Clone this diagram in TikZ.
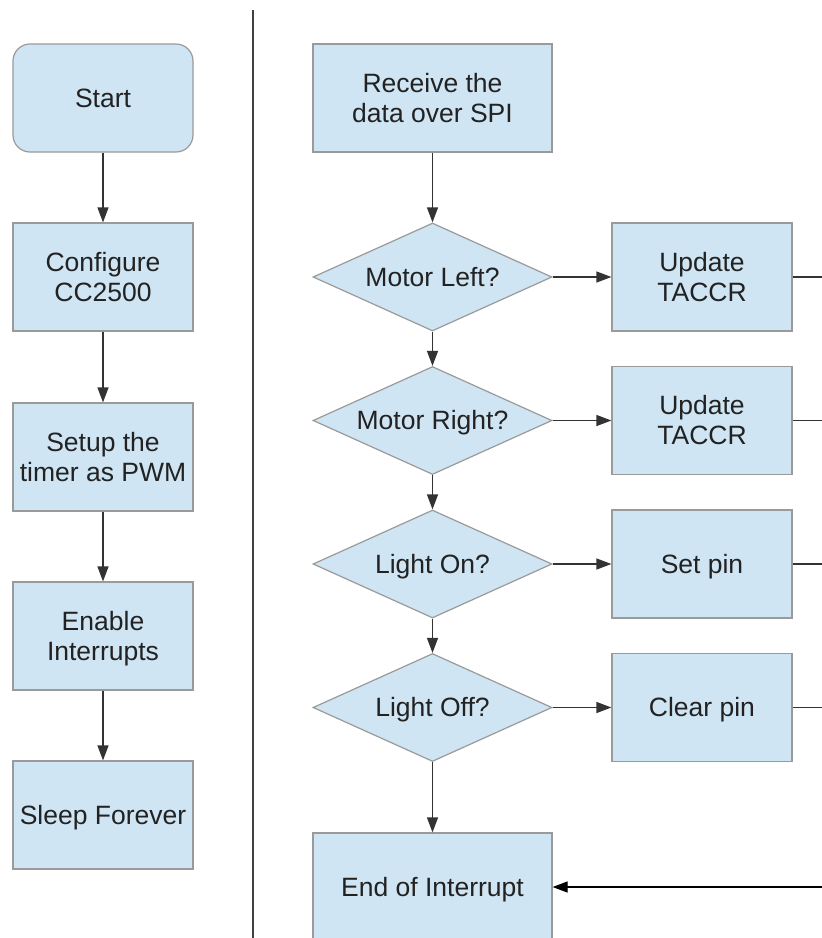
\documentclass[tikz,border=0pt]{standalone}
\usepackage{fontspec}
\setmainfont{Liberation Sans}
\usetikzlibrary{arrows.meta,shapes.geometric}
\definecolor{boxfill}{HTML}{CFE5F3}
\definecolor{boxline}{HTML}{9A9A9A}
\definecolor{txt}{HTML}{222222}
\definecolor{wire}{HTML}{333333}
% every text line gets the full ascent/descent of the font,
% so one- and two-line labels sit the same way in their shapes
\newcommand\lnstrut{\rule[-5.6pt]{0pt}{29.6pt}}
\tikzset{
  x=1pt,y=1pt,
  base/.style={fill=boxfill,draw=boxline,line width=1.2pt,text=txt,
    font=\fontsize{26.5}{29.6}\selectfont,align=center,inner sep=0pt},
  proc/.style={base,rectangle,minimum width=180pt,minimum height=108pt},
  wideproc/.style={base,rectangle,minimum width=239pt,minimum height=108pt},
  term/.style={proc,rounded corners=17pt},
  decide/.style={base,diamond,shape aspect=2.2,minimum width=239pt,minimum height=108pt},
  flow/.style={draw=wire,line width=1.2pt,-{Triangle[length=15pt,width=11pt]}},
  wireline/.style={draw=wire,line width=1.2pt}
}
\begin{document}
\begin{tikzpicture}
\clip (0,0) rectangle (822,-938);
\fill[white] (0,0) rectangle (822,-938);

% divider between main program and interrupt handler
\coordinate (divtop) at (253,-10);
\coordinate (divbot) at (253,-938);
\draw[wireline,draw=black!75] (divtop) -- (divbot);

% main program
\node[term] (start) at (103,-98) {\lnstrut Start};
\node[proc] (cfg)   at (103,-277) {\lnstrut Configure\\\lnstrut CC2500};
\node[proc] (tmr)   at (103,-457) {\lnstrut Setup the\\\lnstrut timer as PWM};
\node[proc] (irq)   at (103,-636) {\lnstrut Enable\\\lnstrut Interrupts};
\node[proc] (sleep) at (103,-815) {\lnstrut Sleep Forever};

\draw[flow] (start) -- (cfg);
\draw[flow] (cfg) -- (tmr);
\draw[flow] (tmr) -- (irq);
\draw[flow] (irq) -- (sleep);

% interrupt handler
\node[wideproc] (rx)  at (432.5,-98) {\lnstrut Receive the\\\lnstrut data over SPI};
\node[decide] (ml)  at (432.5,-277) {\lnstrut Motor Left?};
\node[decide] (mr)  at (432.5,-420.5) {\lnstrut Motor Right?};
\node[decide] (lon) at (432.5,-564) {\lnstrut Light On?};
\node[decide] (lof) at (432.5,-707.5) {\lnstrut Light Off?};
\node[wideproc] (eoi) at (432.5,-887) {\lnstrut End of Interrupt};

\node[proc] (ua) at (702,-277) {\lnstrut Update\\\lnstrut TACCR};
\node[proc] (ub) at (702,-420.5) {\lnstrut Update\\\lnstrut TACCR};
\node[proc] (sp) at (702,-564) {\lnstrut Set pin};
\node[proc] (cp) at (702,-707.5) {\lnstrut Clear pin};

\draw[flow] (rx) -- (ml);
\draw[flow] (ml) -- (mr);
\draw[flow] (mr) -- (lon);
\draw[flow] (lon) -- (lof);
\draw[flow] (lof) -- (eoi);

\draw[flow] (ml) -- (ua);
\draw[flow] (mr) -- (ub);
\draw[flow] (lon) -- (sp);
\draw[flow] (lof) -- (cp);

% return rail on the right edge
\coordinate (ra) at (822,-277);
\coordinate (rb) at (822,-420.5);
\coordinate (rc) at (822,-564);
\coordinate (rd) at (822,-707.5);
\coordinate (re) at (822,-887);
\draw[wireline] (ua) -- (ra);
\draw[wireline] (ub) -- (rb);
\draw[wireline] (sp) -- (rc);
\draw[wireline] (cp) -- (rd);
\draw[flow,draw=black] (re) -- (eoi);
\end{tikzpicture}
\end{document}
